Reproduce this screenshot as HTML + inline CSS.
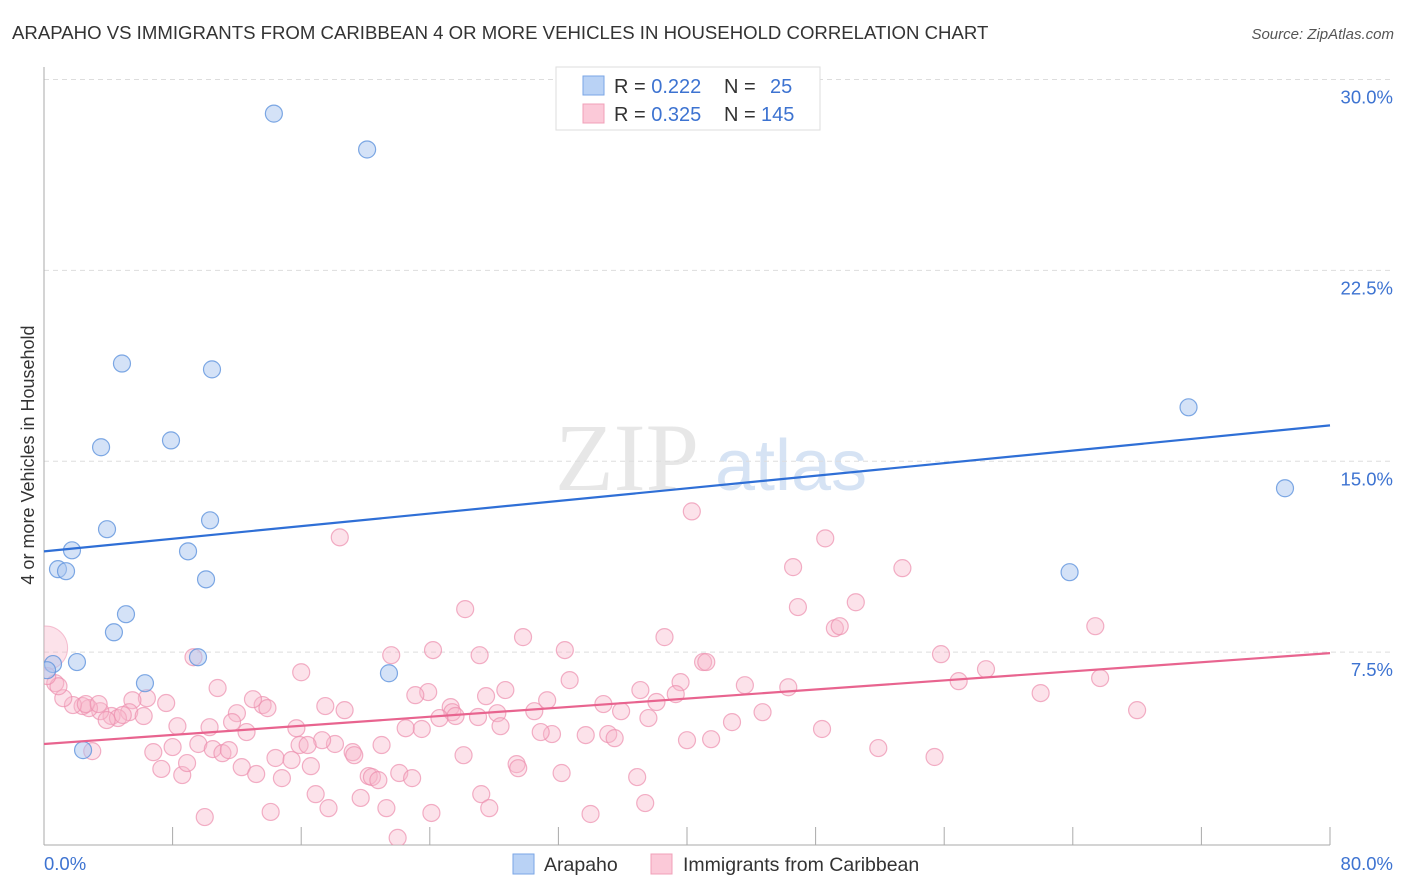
<!DOCTYPE html>
<html><head><meta charset="utf-8"><style>
body{margin:0;background:#fff;font-family:"Liberation Sans",sans-serif}
svg{display:block}
</style></head><body>
<svg id="chart" width="1406" height="892" font-family="Liberation Sans, sans-serif">
<defs><clipPath id="pc"><rect x="44" y="60" width="1360" height="785"/></clipPath></defs>
<text x="12" y="39" font-size="18.6" fill="#333">ARAPAHO VS IMMIGRANTS FROM CARIBBEAN 4 OR MORE VEHICLES IN HOUSEHOLD CORRELATION CHART</text>
<text x="1394" y="39" font-size="15" fill="#555" font-style="italic" text-anchor="end">Source: ZipAtlas.com</text>
<text transform="translate(34,455) rotate(-90)" font-size="18" fill="#333" text-anchor="middle">4 or more Vehicles in Household</text>
<g><text x="555" y="490" font-size="96" font-family="Liberation Serif, serif" fill="#d8d8d8" opacity="0.6">ZIP</text><text x="715" y="490" font-size="72" fill="#bcd2ee" opacity="0.6">atlas</text></g>
<g id="grid"></g><g id="axes"></g><g id="pts" clip-path="url(#pc)"></g><g id="lines"></g>
<g>
<rect x="556" y="67" width="264" height="63" fill="#fff" stroke="#ddd"/>
<rect x="583" y="76" width="21" height="19" fill="#b9d2f5" stroke="#7aa6e6"/>
<rect x="583" y="104" width="21" height="19" fill="#fbc9d8" stroke="#f0a0b8"/>
<text x="614" y="93" font-size="20" fill="#333">R = <tspan fill="#3d73d1">0.222</tspan><tspan x="724">N =</tspan><tspan x="770" fill="#3d73d1">25</tspan></text>
<text x="614" y="121" font-size="20" fill="#333">R = <tspan fill="#3d73d1">0.325</tspan><tspan x="724">N =</tspan><tspan x="761" fill="#3d73d1">145</tspan></text>
</g>
<g>
<rect x="513" y="854" width="21" height="20" fill="#b9d2f5" stroke="#7aa6e6"/>
<text x="544" y="871" font-size="19.5" fill="#333">Arapaho</text>
<rect x="651" y="854" width="21" height="20" fill="#fbc9d8" stroke="#f0a0b8"/>
<text x="683" y="871" font-size="19.5" fill="#333">Immigrants from Caribbean</text>
</g>
</svg>
<script>
const yTicks=[7.5,15,22.5,30];
const yTickLabels=["7.5%","15.0%","22.5%","30.0%"];
const xTickVals=[0,8,16,24,32,40,48,56,64,72,80];
const blueX=[14.3,20.1,4.85,10.45,3.55,7.9,71.2,77.2,3.92,10.33,1.74,8.96,0.87,1.37,10.08,63.8,5.1,4.35,2.05,0.56,9.58,0.19,6.28,21.46,2.43];
const blueY=[28.66,27.25,18.84,18.61,15.55,15.82,17.12,13.94,12.33,12.68,11.5,11.46,10.76,10.68,10.36,10.64,8.99,8.28,7.11,7.03,7.3,6.79,6.28,6.67,3.65];
const pinkX=[40.3,18.4,48.6,46.6,53.4,26.2,46.9,50.5,49.2,49.5,65.4,29.8,38.6,16.0,21.6,24.2,27.1,32.4,41.0,41.2,55.8,58.6,56.9,65.7,62.0,68.0,32.7,37.1,39.6,43.6,46.3,39.3,38.1,34.8,31.3,28.7,27.5,23.9,23.1,25.3,25.4,28.2,30.5,35.9,37.6,42.8,44.7,48.4,51.9,55.4,40.0,41.5,33.7,35.1,35.5,31.6,30.9,28.4,25.6,23.5,22.5,21.0,19.2,19.3,18.1,17.3,15.7,18.7,17.5,13.6,13.0,13.9,12.0,11.7,12.6,10.3,8.3,7.6,6.4,5.5,5.3,6.2,4.2,4.6,4.9,3.5,3.9,2.8,2.4,1.8,1.2,0.7,0.9,0.2,9.3,10.8,2.6,3.4,3.0,6.8,8.0,9.6,10.5,11.1,11.5,12.3,13.2,14.4,15.4,14.8,16.6,16.9,17.7,19.7,20.2,20.4,20.8,21.3,22.1,22.9,24.1,22.0,26.1,27.2,27.7,29.4,29.5,32.2,34.0,36.9,37.4,14.1,10.0,7.3,8.6,8.9,15.9,16.4,24.6,27.0];
const pinkY=[13.03,12.01,11.97,10.84,10.80,9.19,9.27,9.46,8.44,8.52,8.52,8.09,8.09,6.71,7.38,7.58,7.38,7.58,7.11,7.11,7.42,6.83,6.36,6.48,5.89,5.22,6.40,6.01,6.32,6.20,6.12,5.85,5.54,5.46,5.61,6.01,5.77,5.93,5.81,5.34,5.14,5.10,5.18,5.18,4.91,4.75,5.14,4.48,3.73,3.38,4.04,4.08,4.24,4.28,4.12,4.28,4.36,4.59,4.99,4.48,4.51,3.85,3.57,3.45,3.89,4.04,4.51,5.22,5.38,5.42,5.65,5.30,5.10,4.75,4.36,4.55,4.59,5.50,5.69,5.61,5.14,4.99,4.99,4.91,5.03,5.18,4.83,5.30,5.38,5.42,5.69,6.28,6.16,6.56,7.30,6.09,5.46,5.46,3.61,3.57,3.77,3.89,3.69,3.53,3.65,2.98,2.71,3.34,3.26,2.55,3.02,1.92,1.37,1.77,2.63,2.59,2.47,1.37,2.75,2.55,1.18,0.20,3.45,1.92,1.37,3.10,2.94,2.75,1.14,2.59,1.57,1.22,1.02,2.91,2.67,3.14,3.85,3.85,4.91,4.95];
const bigPink=[0.1,7.66];
const blueTrend=[11.46,16.41];
const pinkTrend=[3.89,7.46];
const X0=44,X1=1330,Y0=843,AXY=845,PY=25.45;
const sx=v=>X0+(v/80)*(X1-X0);
const sy=v=>Y0-v*PY;
const NS="http://www.w3.org/2000/svg";
function mk(tag,attrs,parent){const e=document.createElementNS(NS,tag);for(const k in attrs)e.setAttribute(k,attrs[k]);parent.appendChild(e);return e;}
const grid=document.getElementById('grid'),axes=document.getElementById('axes'),pts=document.getElementById('pts'),lines=document.getElementById('lines');
yTicks.forEach((t,i)=>{
 const l=mk('line',{x1:X0,x2:1394,y1:sy(t),y2:sy(t),stroke:'#ddd','stroke-dasharray':'5,4'},grid);
 
 
 const tx=mk('text',{x:1393,y:sy(t)+24,'font-size':18.5,fill:'#3d73d1','text-anchor':'end'},grid);
 tx.textContent=yTickLabels[i];
 
 
});
const ya=mk('line',{x1:X0,x2:X0,y1:67,y2:AXY,stroke:'#aaa'},axes);


const xa=mk('line',{x1:X0,x2:X1,y1:AXY,y2:AXY,stroke:'#aaa'},axes);


xTickVals.forEach(v=>{if(v===0)return;
 const t=mk('line',{x1:sx(v),x2:sx(v),y1:AXY-18,y2:AXY,stroke:'#aaa'},axes);
 
 
});
const xl0=mk('text',{x:44,y:870,'font-size':18.5,fill:'#3d73d1'},axes);xl0.textContent='0.0%';


const xl1=mk('text',{x:1393,y:870,'font-size':18.5,fill:'#3d73d1','text-anchor':'end'},axes);xl1.textContent='80.0%';


const bp=mk('circle',{cx:sx(bigPink[0]),cy:sy(bigPink[1]),r:22,fill:'#f7b7ca','fill-opacity':0.4,stroke:'#ee9ab5','stroke-opacity':0.6},pts);


pinkX.forEach((x,i)=>{
 const c=mk('circle',{cx:sx(x),cy:sy(pinkY[i]),r:8.5,fill:'#f7b7ca','fill-opacity':0.4,stroke:'#ec8fae','stroke-opacity':0.7,'stroke-width':1.2},pts);
 
 
});
blueX.forEach((x,i)=>{
 const c=mk('circle',{cx:sx(x),cy:sy(blueY[i]),r:8.5,fill:'#a9c6f0','fill-opacity':0.5,stroke:'#5f93dd','stroke-opacity':0.8,'stroke-width':1.2},pts);
 
 
});
const bl=mk('line',{x1:sx(0),x2:sx(80),y1:sy(blueTrend[0]),y2:sy(blueTrend[1]),stroke:'#2f6fd6','stroke-width':2.2},lines);


const pl=mk('line',{x1:sx(0),x2:sx(80),y1:sy(pinkTrend[0]),y2:sy(pinkTrend[1]),stroke:'#e8648f','stroke-width':2.2},lines);


</script>
</body></html>
